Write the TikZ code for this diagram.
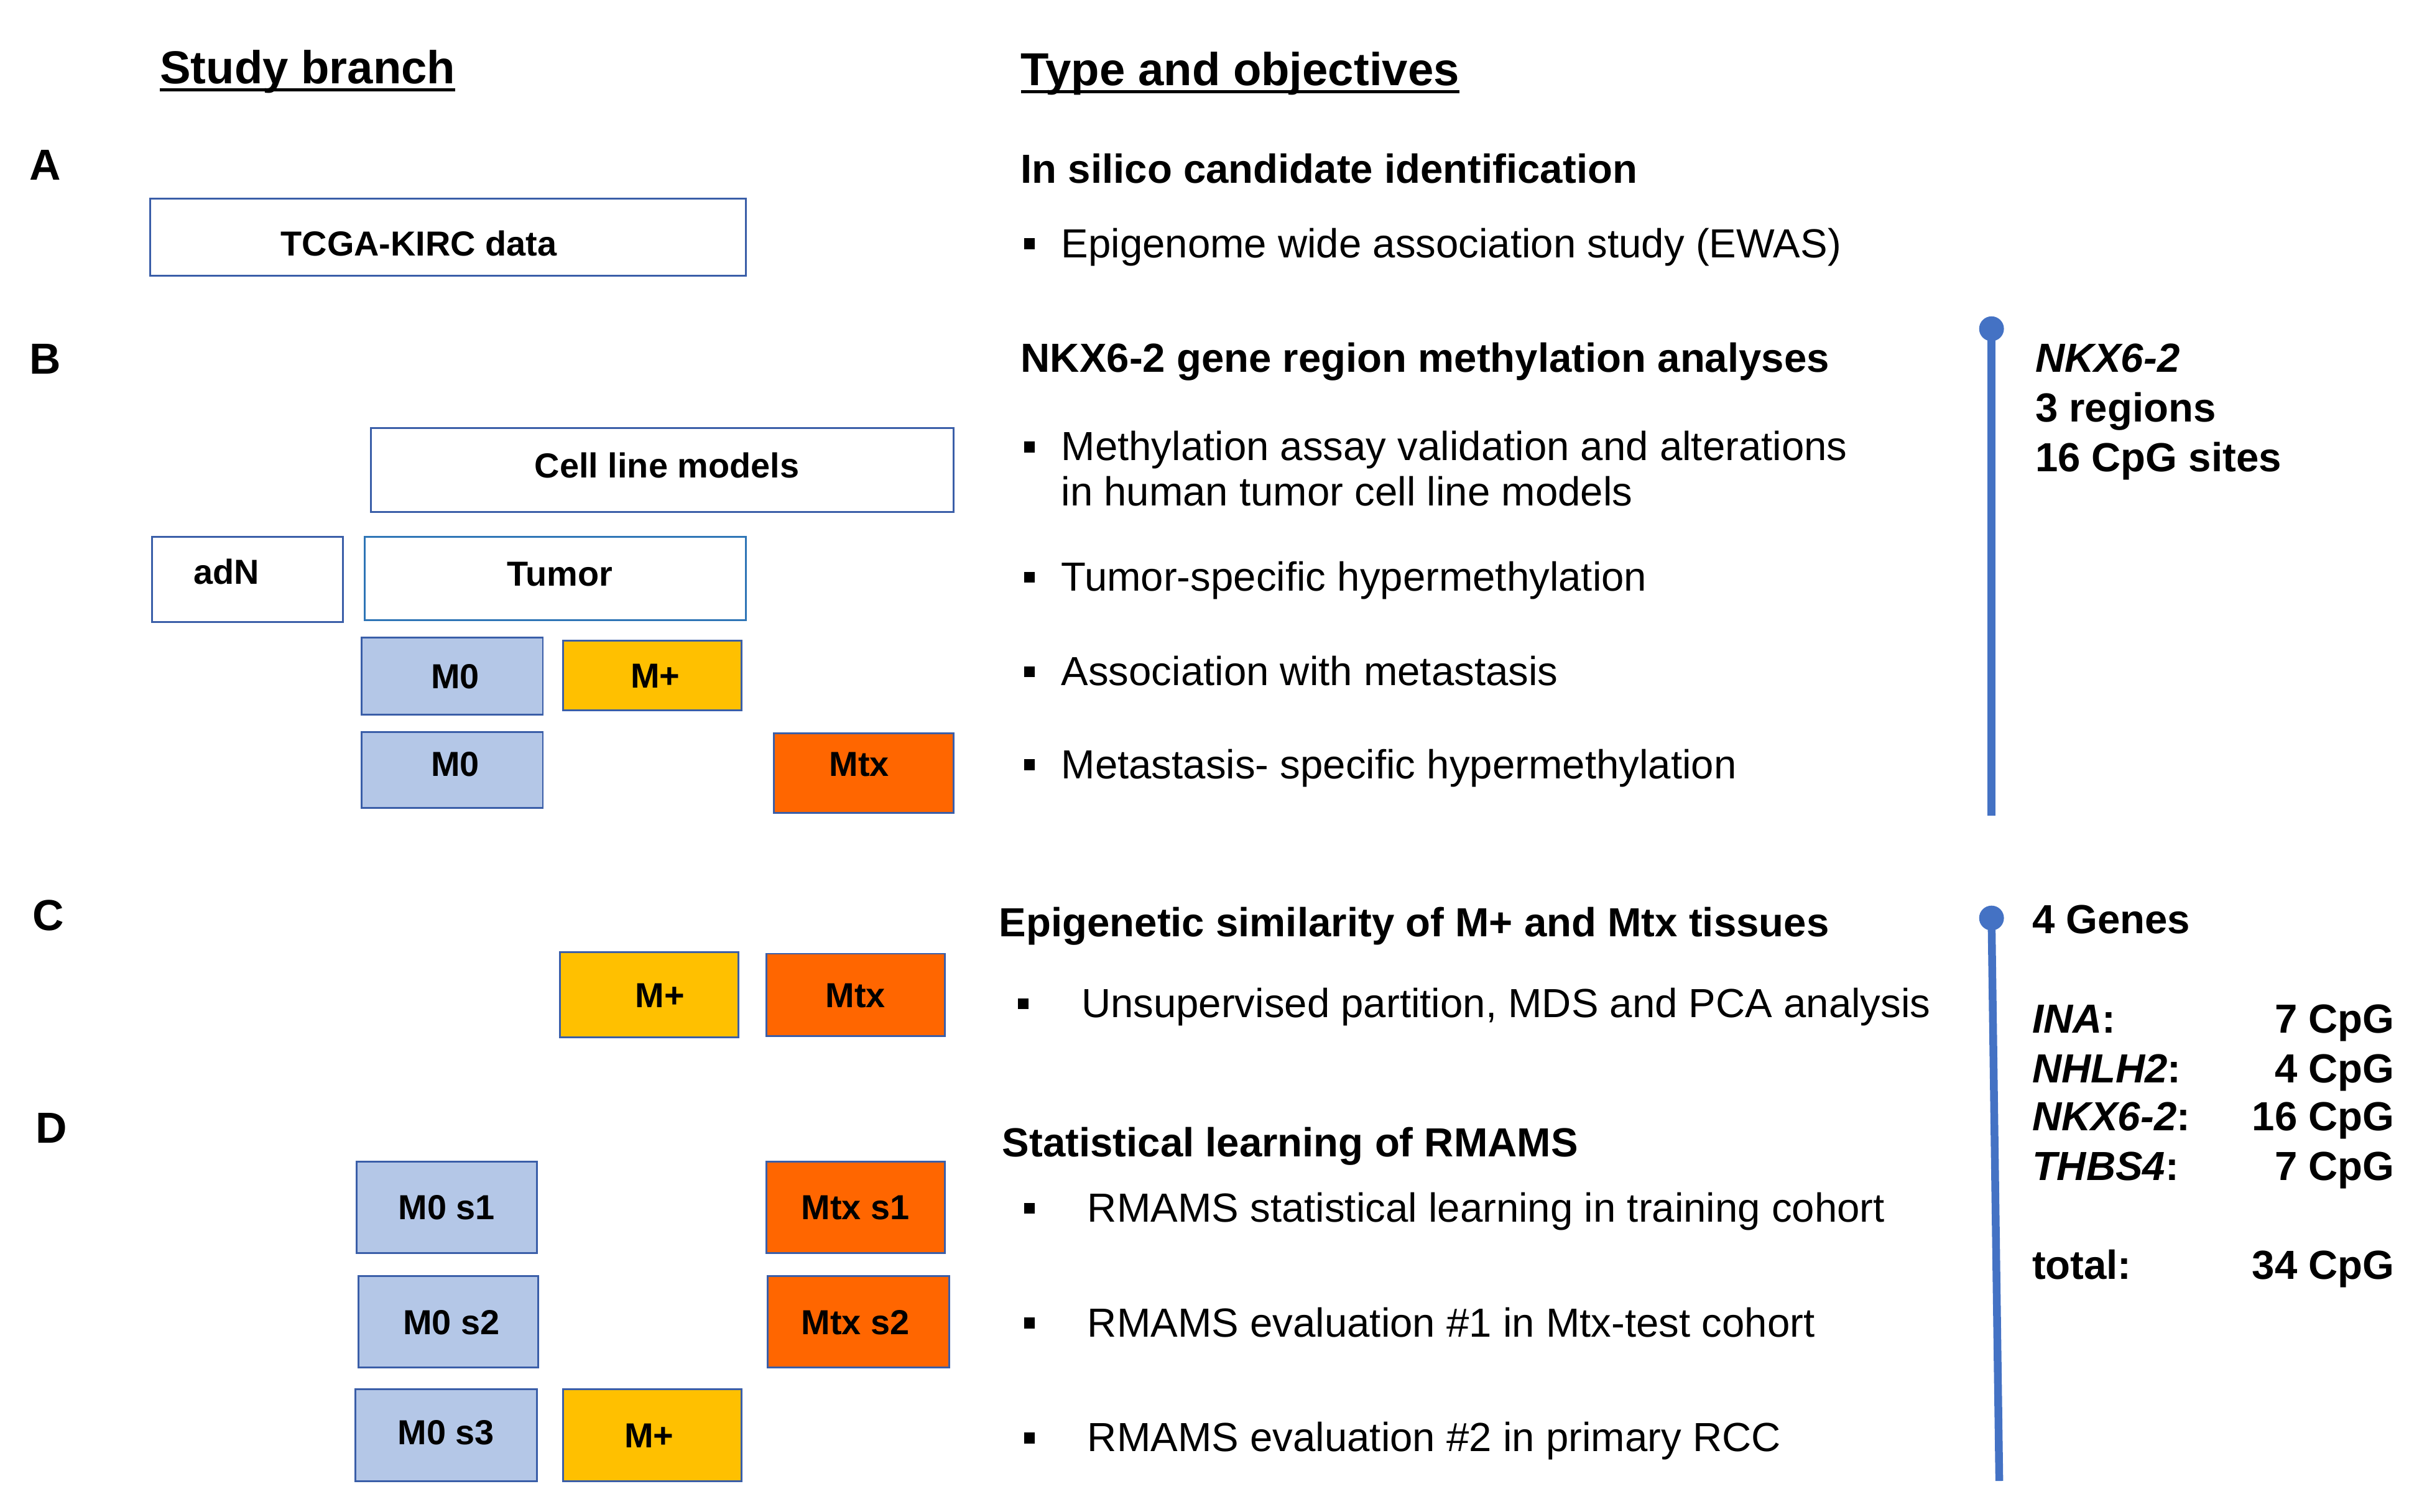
\documentclass[tikz,border=0pt]{standalone}
\usepackage{fontspec}
\setmainfont{Liberation Sans}
\usepackage{tikz}

\definecolor{boxline}{HTML}{3A5EA8}
\definecolor{tumline}{HTML}{2E75B6}
\definecolor{mzerofill}{HTML}{B4C7E7}
\definecolor{mplusfill}{HTML}{FFC000}
\definecolor{mtxfill}{HTML}{FF6600}
\definecolor{barblue}{HTML}{4472C4}

\newcommand{\sqb}{\rule[0.2em]{0.27em}{0.27em}}
\newcommand{\ulined}[1]{\setbox0\hbox{#1}\rlap{\rule[-5pt]{\wd0}{2pt}}\box0}

\begin{document}
\begin{tikzpicture}[x=1pt,y=-1pt,
  box/.style={draw=boxline,line width=1.2pt,font=\fontsize{22.4}{26}\selectfont\bfseries,
    text height=16pt,text depth=0pt,inner sep=0pt},
  mzero/.style={box,fill=mzerofill},
  mplus/.style={box,fill=mplusfill},
  mtx/.style={box,fill=mtxfill},
  title/.style={anchor=base west,inner sep=0pt,font=\fontsize{29.8}{34}\selectfont\bfseries},
  letter/.style={anchor=base west,inner sep=0pt,font=\fontsize{28}{32}\selectfont\bfseries},
  head/.style={anchor=base west,inner sep=0pt,font=\fontsize{26.2}{30}\selectfont\bfseries},
  item/.style={anchor=base west,inner sep=0pt,align=left,font=\fontsize{26.2}{29}\selectfont},
  side/.style={anchor=base west,inner sep=0pt,align=left,font=\fontsize{26.2}{32}\selectfont\bfseries},
  bar/.style={barblue,line width=5pt}]
\useasboundingbox (0,0) rectangle (1568,975);

% column titles
\node[title] (tstudy) at (103,54) {\ulined{Study branch}};
\node[title] (ttype) at (658,55) {\ulined{Type and objectives}};

% branch letters
\node[letter] (la) at (19,116) {A};
\node[letter] (lb) at (19,241) {B};
\node[letter] (lc) at (21,600) {C};
\node[letter] (ld) at (23,737) {D};

% study branch boxes
\node[box,minimum width=384pt,minimum height=50pt] (tcga) at (289,153) {\hspace*{-38pt}\raisebox{-4pt}{TCGA-KIRC data}};
\node[box,minimum width=376pt,minimum height=54pt] (cells) at (427,303) {\hspace*{6pt}\raisebox{3pt}{Cell line models}};
\node[box,minimum width=123pt,minimum height=55pt] (adn) at (159.5,373.5) {\hspace*{-27pt}\raisebox{5pt}{adN}};
\node[box,draw=tumline,minimum width=246pt,minimum height=54pt] (tumor) at (358,373) {\hspace*{6pt}\raisebox{3pt}{Tumor}};
\node[mzero,minimum width=117pt,minimum height=50pt] (mzeroa) at (291.5,436) {\hspace*{4pt}M0};
\node[mplus,minimum width=115pt,minimum height=45pt] (mplusa) at (420.5,435.5) {\hspace*{4pt}M+};
\node[mzero,minimum width=117pt,minimum height=49pt] (mzerob) at (291.5,496.5) {\hspace*{4pt}\raisebox{4pt}{M0}};
\node[mtx,minimum width=116pt,minimum height=51pt] (mtxb) at (557,498.5) {\hspace*{-6pt}\raisebox{6pt}{Mtx}};
\node[mplus,minimum width=115pt,minimum height=55pt] (mplusc) at (418.5,641.5) {\hspace*{14pt}M+};
\node[mtx,minimum width=115pt,minimum height=53pt] (mtxc) at (551.5,641.5) {Mtx};
\node[mzero,minimum width=116pt,minimum height=59pt] (mzeros1) at (288,778.5) {M0 s1};
\node[mtx,minimum width=115pt,minimum height=59pt] (mtxs1) at (551.5,778.5) {Mtx s1};
\node[mzero,minimum width=116pt,minimum height=59pt] (mzeros2) at (289,852.5) {\hspace*{4pt}M0 s2};
\node[mtx,minimum width=117pt,minimum height=59pt] (mtxs2) at (553.5,852.5) {\hspace*{-4pt}Mtx s2};
\node[mzero,minimum width=117pt,minimum height=59pt] (mzeros3) at (287.5,925.5) {\raisebox{2pt}{M0 s3}};
\node[mplus,minimum width=115pt,minimum height=59pt] (mpluss3) at (420.5,925.5) {\hspace*{-4pt}M+};

% type and objectives
\node[head] (ha) at (658,118) {In silico candidate identification};
\node[item] (ia) at (660,166) {\makebox[24pt][l]{\sqb}Epigenome wide association study (EWAS)};

\node[head] (hb) at (658,240) {NKX6-2 gene region methylation analyses};
\node[item] (ib1) at (660,326) {\makebox[24pt][l]{\sqb}Methylation assay validation and alterations\\\hspace*{24pt}in human tumor cell line models};
\node[item] (ib2) at (660,381) {\makebox[24pt][l]{\sqb}Tumor-specific hypermethylation};
\node[item] (ib3) at (660,442) {\makebox[24pt][l]{\sqb}Association with metastasis};
\node[item] (ib4) at (660,502) {\makebox[24pt][l]{\sqb}Metastasis- specific hypermethylation};

\node[head] (hc) at (644,604) {Epigenetic similarity of M+ and Mtx tissues};
\node[item] (ic) at (656,656) {\makebox[41pt][l]{\sqb}Unsupervised partition, MDS and PCA analysis};

\node[head] (hd) at (646,746) {Statistical learning of RMAMS};
\node[item] (id1) at (660,788) {\makebox[41pt][l]{\sqb}RMAMS statistical learning in training cohort};
\node[item] (id2) at (660,862) {\makebox[41pt][l]{\sqb}RMAMS evaluation \#1 in Mtx-test cohort};
\node[item] (id3) at (660,936) {\makebox[41pt][l]{\sqb}RMAMS evaluation \#2 in primary RCC};

% side bars
\coordinate (bartopb) at (1284,212);
\coordinate (barendb) at (1284,526);
\draw[bar] (bartopb) -- (barendb);
\fill[barblue] (bartopb) circle (8);
\node[side] (nkx) at (1312,304) {\textit{NKX6-2}\\3 regions\\16 CpG sites};

\coordinate (bartopd) at (1284,592);
\coordinate (barendd) at (1289,955);
\draw[bar] (bartopd) -- (barendd);
\fill[barblue] (bartopd) circle (8);
\node[side] (genes) at (1310,602) {4 Genes};
\node[side] (gina) at (1310,666) {\textit{INA}:};
\node[side] (gnhlh) at (1310,698) {\textit{NHLH2}:};
\node[side] (gnkx) at (1310,729) {\textit{NKX6-2}:};
\node[side] (gthbs) at (1310,761) {\textit{THBS4}:};
\node[side] (gtotal) at (1310,825) {total:};
\node[side,anchor=base east] (cina) at (1544,666) {7 CpG};
\node[side,anchor=base east] (cnhlh) at (1544,698) {4 CpG};
\node[side,anchor=base east] (cnkx) at (1544,729) {16 CpG};
\node[side,anchor=base east] (cthbs) at (1544,761) {7 CpG};
\node[side,anchor=base east] (ctotal) at (1544,825) {34 CpG};
\end{tikzpicture}
\end{document}
